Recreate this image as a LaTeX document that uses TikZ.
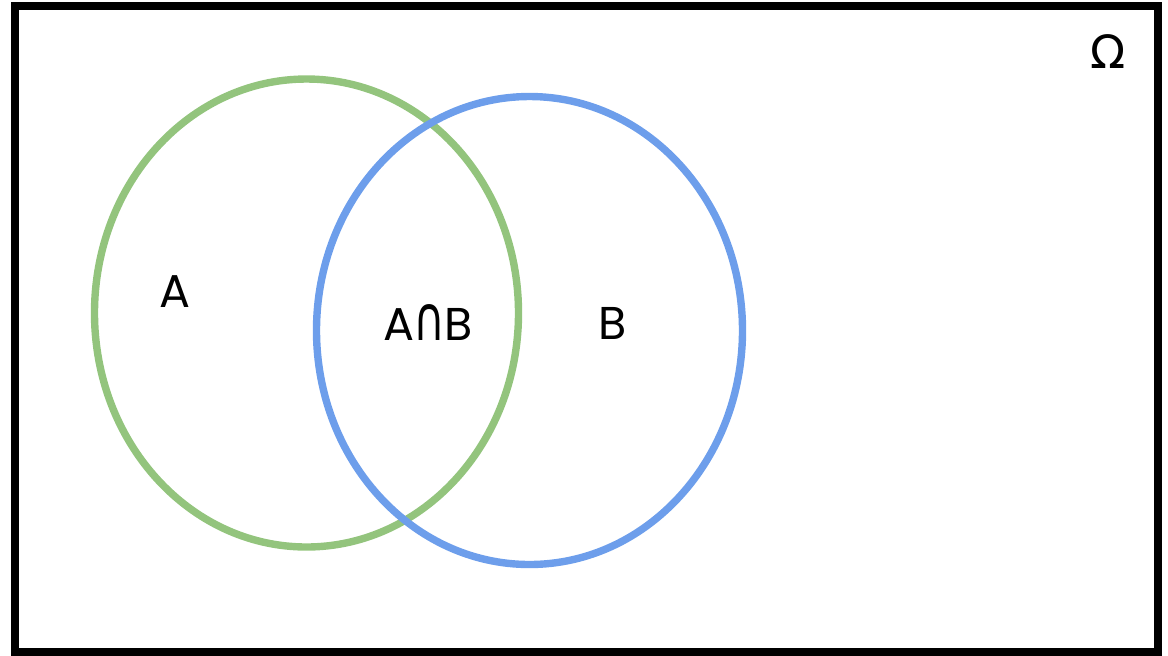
\documentclass[tikz,border=0pt]{standalone}
\usepackage{fontspec}
\usepackage{graphicx}
\setmainfont{Poppins}
\newfontfamily\symbfont{DejaVu Sans}
\definecolor{setgreen}{HTML}{93C47D}
\definecolor{setblue}{HTML}{6D9EEB}
\begin{document}
\begin{tikzpicture}[x=0.5pt,y=-0.5pt]
    \tikzstyle{every node}=[font=\fontsize{23}{27}\selectfont,inner sep=0pt]
    \tikzstyle{setline}=[line width=3.7pt]

    \useasboundingbox (0,0) rectangle (1168,655);
    \draw[line width=4pt] (14.5,6) rectangle (1158,652);

    \draw[setline,setgreen] (306.5,313) ellipse [x radius=212, y radius=234];
    \draw[setline,setblue]  (529.5,330.5) ellipse [x radius=213, y radius=234];

    \node (A)     at (175,292)  {A};
    \node (AB)    at (428,323)  {A\kern-0.5pt\scalebox{0.95}[1.35]{\symbfont ∩}\kern-0.5ptB};
    \node (B)     at (613,323)  {B};
    \node (Omega) at (1108,52)  {\symbfont Ω};
\end{tikzpicture}
\end{document}
